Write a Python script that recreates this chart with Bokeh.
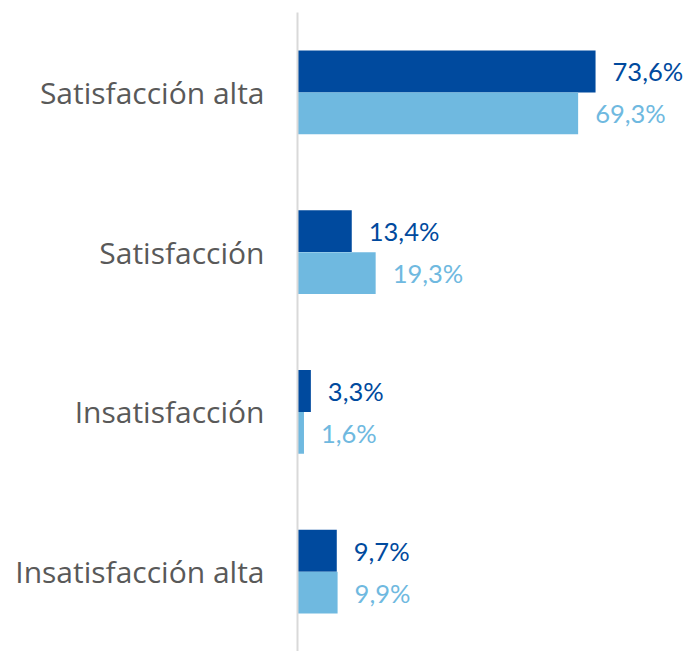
from bokeh.plotting import figure
from bokeh.models import FactorRange, Range1d, ColumnDataSource
from bokeh.transform import dodge
from bokeh.core.properties import value
from bokeh.embed import file_html
from bokeh.resources import INLINE

# Survey satisfaction levels, top to bottom
categories = ["Satisfacción alta", "Satisfacción", "Insatisfacción", "Insatisfacción alta"]
serie_a = [73.6, 13.4, 3.3, 9.7]   # dark blue series
serie_b = [69.3, 19.3, 1.6, 9.9]   # light blue series

dark = "#004A9E"
light = "#6FB9E0"

def fmt(v):
    return f"{v:.1f}".replace(".", ",") + "%"

src = ColumnDataSource(dict(
    cat=categories,
    a=serie_a,
    b=serie_b,
    a_lbl=[fmt(v) for v in serie_a],
    b_lbl=[fmt(v) for v in serie_b],
))

p = figure(
    width=689, height=651,
    y_range=FactorRange(*reversed(categories), range_padding=0),
    x_range=Range1d(0, 96.8),
    output_backend="svg", toolbar_location=None,
    min_border_left=297, min_border_right=0,
    min_border_top=12, min_border_bottom=0,
)
p.outline_line_color = None
p.grid.visible = False
p.xaxis.visible = False

bar_h = 0.262
p.hbar(y=dodge("cat", bar_h / 2, range=p.y_range), left=0, right="a",
       height=bar_h, source=src, color=dark, line_color=None)
p.hbar(y=dodge("cat", -bar_h / 2, range=p.y_range), left=0, right="b",
       height=bar_h, source=src, color=light, line_color=None)

p.text(x="a", y=dodge("cat", bar_h / 2, range=p.y_range), text="a_lbl",
       source=src, x_offset=17, text_baseline="middle", text_align="left",
       text_font=value("Lato"), text_font_size="25.5px", text_color=dark)
p.text(x="b", y=dodge("cat", -bar_h / 2, range=p.y_range), text="b_lbl",
       source=src, x_offset=17, text_baseline="middle", text_align="left",
       text_font=value("Lato"), text_font_size="25.5px", text_color=light)

ax = p.yaxis[0]
ax.axis_line_color = "#D9D9D9"
ax.axis_line_width = 2
ax.major_tick_line_color = None
ax.minor_tick_line_color = None
ax.major_tick_out = 0
ax.major_tick_in = 0
ax.major_label_standoff = 33
ax.major_label_text_font = "Open Sans"
ax.major_label_text_font_size = "30px"
ax.major_label_text_color = "#595959"

open("out.html", "w").write(file_html(p, INLINE))
